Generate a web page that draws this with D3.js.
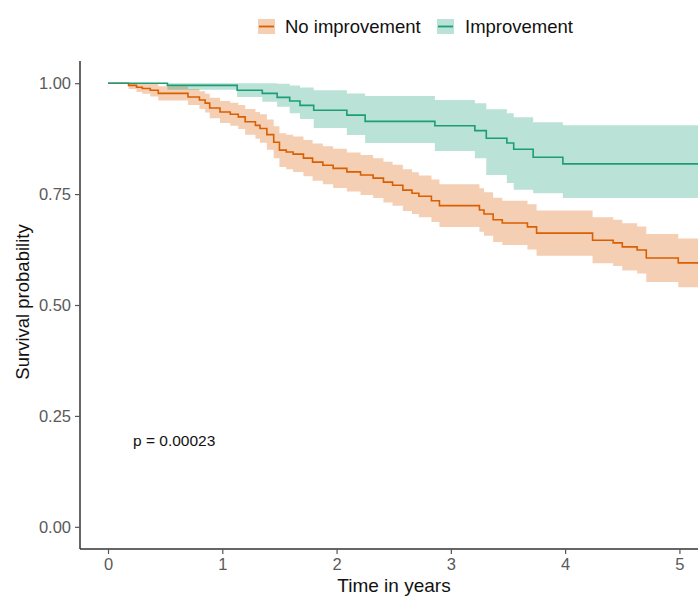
<!DOCTYPE html>
<html>
<head>
<meta charset="utf-8">
<script src="https://cdn.jsdelivr.net/npm/d3@7"></script>
<style>
  html, body { margin: 0; padding: 0; background: #fff; }
  svg { display: block; font-family: "Liberation Sans", Arial, sans-serif; }
</style>
</head>
<body>
<svg id="chart" width="698" height="597"></svg>
<script>
// ---- Data ----
const seriesNames = ["No improvement", "Improvement"];

const timeNo  = [0, 0.18, 0.25, 0.30, 0.37, 0.44, 0.70, 0.80, 0.85, 0.89, 0.98, 1.07, 1.14, 1.20, 1.29, 1.33, 1.39, 1.45, 1.50, 1.56, 1.62, 1.71, 1.79, 1.88, 1.97, 2.09, 2.21, 2.32, 2.41, 2.49, 2.58, 2.66, 2.72, 2.83, 2.90, 3.25, 3.29, 3.37, 3.45, 3.67, 3.75, 4.24, 4.42, 4.50, 4.63, 4.71, 4.99, 5.20];
const survNo  = [1.000, 0.995, 0.991, 0.988, 0.984, 0.977, 0.969, 0.962, 0.955, 0.944, 0.935, 0.930, 0.924, 0.913, 0.905, 0.898, 0.884, 0.867, 0.849, 0.845, 0.840, 0.831, 0.822, 0.815, 0.808, 0.800, 0.793, 0.786, 0.777, 0.770, 0.759, 0.752, 0.745, 0.735, 0.724, 0.714, 0.705, 0.692, 0.685, 0.676, 0.662, 0.646, 0.640, 0.631, 0.624, 0.606, 0.595, 0.595];
const upperNo = [1.000, 1.000, 1.000, 0.999, 0.998, 0.993, 0.987, 0.982, 0.976, 0.967, 0.960, 0.956, 0.951, 0.942, 0.935, 0.930, 0.918, 0.903, 0.887, 0.884, 0.880, 0.872, 0.864, 0.858, 0.852, 0.844, 0.838, 0.831, 0.823, 0.816, 0.806, 0.799, 0.792, 0.783, 0.772, 0.763, 0.754, 0.742, 0.735, 0.727, 0.713, 0.698, 0.692, 0.684, 0.677, 0.660, 0.650, 0.650];
const lowerNo = [1.000, 0.987, 0.980, 0.976, 0.970, 0.961, 0.951, 0.942, 0.934, 0.921, 0.910, 0.904, 0.897, 0.884, 0.875, 0.866, 0.850, 0.831, 0.811, 0.806, 0.800, 0.790, 0.780, 0.772, 0.764, 0.756, 0.748, 0.741, 0.731, 0.724, 0.712, 0.705, 0.698, 0.687, 0.676, 0.665, 0.656, 0.642, 0.635, 0.625, 0.611, 0.594, 0.588, 0.578, 0.571, 0.552, 0.540, 0.540];

const timeImp  = [0, 0.52, 1.13, 1.35, 1.48, 1.59, 1.68, 1.80, 2.09, 2.25, 2.86, 3.21, 3.31, 3.49, 3.55, 3.72, 3.98, 5.20];
const survImp  = [1.000, 0.995, 0.984, 0.977, 0.968, 0.960, 0.950, 0.939, 0.928, 0.914, 0.904, 0.893, 0.876, 0.865, 0.851, 0.833, 0.818, 0.818];
const upperImp = [1.000, 1.000, 1.000, 1.000, 0.999, 0.995, 0.990, 0.984, 0.977, 0.971, 0.962, 0.955, 0.941, 0.932, 0.923, 0.912, 0.905, 0.905];
const lowerImp = [1.000, 0.985, 0.969, 0.958, 0.947, 0.932, 0.919, 0.899, 0.883, 0.865, 0.847, 0.831, 0.793, 0.775, 0.760, 0.752, 0.741, 0.741];

const xTicks = [0, 1, 2, 3, 4, 5];
const yTicks = [0, 0.25, 0.5, 0.75, 1];
const pValueLabel = "p = 0.00023";
const xTitle = "Time in years";
const yTitle = "Survival probability";

// ---- Build series ----
const colors = ["#D95F02", "#1B9E77"];
const series = [
  { name: seriesNames[0], color: colors[0], pts: timeNo.map((t, i) => ({ t, s: survNo[i], u: upperNo[i], l: lowerNo[i] })) },
  { name: seriesNames[1], color: colors[1], pts: timeImp.map((t, i) => ({ t, s: survImp[i], u: upperImp[i], l: lowerImp[i] })) }
];

// ---- Layout ----
const svg = d3.select("#chart");
const panel = { left: 80, right: 708, top: 61, bottom: 549 };

const x = d3.scaleLinear().domain([-0.245, 5.25]).range([panel.left, panel.right]);
const y = d3.scaleLinear().domain([-0.05, 1.05]).range([panel.bottom, panel.top]);

svg.append("defs").append("clipPath").attr("id", "clip")
  .append("rect").attr("x", panel.left).attr("y", panel.top)
  .attr("width", panel.right - panel.left).attr("height", panel.bottom - panel.top);

const g = svg.append("g").attr("clip-path", "url(#clip)");

const area = d3.area().curve(d3.curveStepAfter)
  .x(d => x(d.t)).y0(d => y(d.l)).y1(d => y(d.u));
const line = d3.line().curve(d3.curveStepAfter)
  .x(d => x(d.t)).y(d => y(d.s));

series.forEach(s => {
  g.append("path").datum(s.pts).attr("d", area)
    .attr("fill", s.color).attr("fill-opacity", 0.3).attr("stroke", "none");
});
series.forEach(s => {
  g.append("path").datum(s.pts).attr("d", line)
    .attr("fill", "none").attr("stroke", s.color).attr("stroke-width", 1.6);
});

// ---- Axes ----
const xAxis = d3.axisBottom(x).tickValues(xTicks).tickFormat(d3.format("d")).tickSize(5).tickSizeOuter(0).tickPadding(4);
const yAxis = d3.axisLeft(y).tickValues(yTicks).tickFormat(d3.format(".2f")).tickSize(5).tickSizeOuter(0).tickPadding(4);

const gx = svg.append("g").attr("transform", `translate(0,${panel.bottom})`).call(xAxis);
const gy = svg.append("g").attr("transform", `translate(${panel.left},0)`).call(yAxis);

[gx, gy].forEach(ax => {
  ax.select(".domain").attr("stroke", "#333").attr("stroke-width", 1.5);
  ax.selectAll(".tick line").attr("stroke", "#555").attr("stroke-width", 1.2);
  ax.selectAll(".tick text").attr("fill", "#5a5a5a").attr("font-size", 16.5)
    .attr("font-family", "'Liberation Sans', Arial, sans-serif");
});
gx.select(".domain").attr("d", `M${panel.left},0H${panel.right}`);
gy.select(".domain").attr("d", `M0,${panel.top}V${panel.bottom}`);

// Axis titles
svg.append("text").attr("x", (panel.left + panel.right) / 2).attr("y", 592)
  .attr("text-anchor", "middle").attr("font-size", 19).attr("fill", "#111").text(xTitle);
svg.append("text").attr("transform", `translate(29,302) rotate(-90)`)
  .attr("text-anchor", "middle").attr("font-size", 18.5).attr("fill", "#111").text(yTitle);

// p-value
svg.append("text").attr("x", 133).attr("y", 446).attr("font-size", 15.5).attr("fill", "#111")
  .text(pValueLabel);

// ---- Legend ----
const legend = svg.append("g");
const legendItems = [
  { name: seriesNames[0], color: colors[0], kx: 258, tx: 285 },
  { name: seriesNames[1], color: colors[1], kx: 437, tx: 465 }
];
legendItems.forEach(it => {
  const k = legend.append("g").attr("transform", `translate(${it.kx},19)`);
  k.append("rect").attr("width", 17).attr("height", 15).attr("fill", it.color).attr("fill-opacity", 0.3);
  k.append("line").attr("x1", 1).attr("x2", 16).attr("y1", 7.5).attr("y2", 7.5)
    .attr("stroke", it.color).attr("stroke-width", 1.8);
  legend.append("text").attr("x", it.tx).attr("y", 33).attr("font-size", 18.5).attr("fill", "#111").text(it.name);
});
</script>
</body>
</html>
